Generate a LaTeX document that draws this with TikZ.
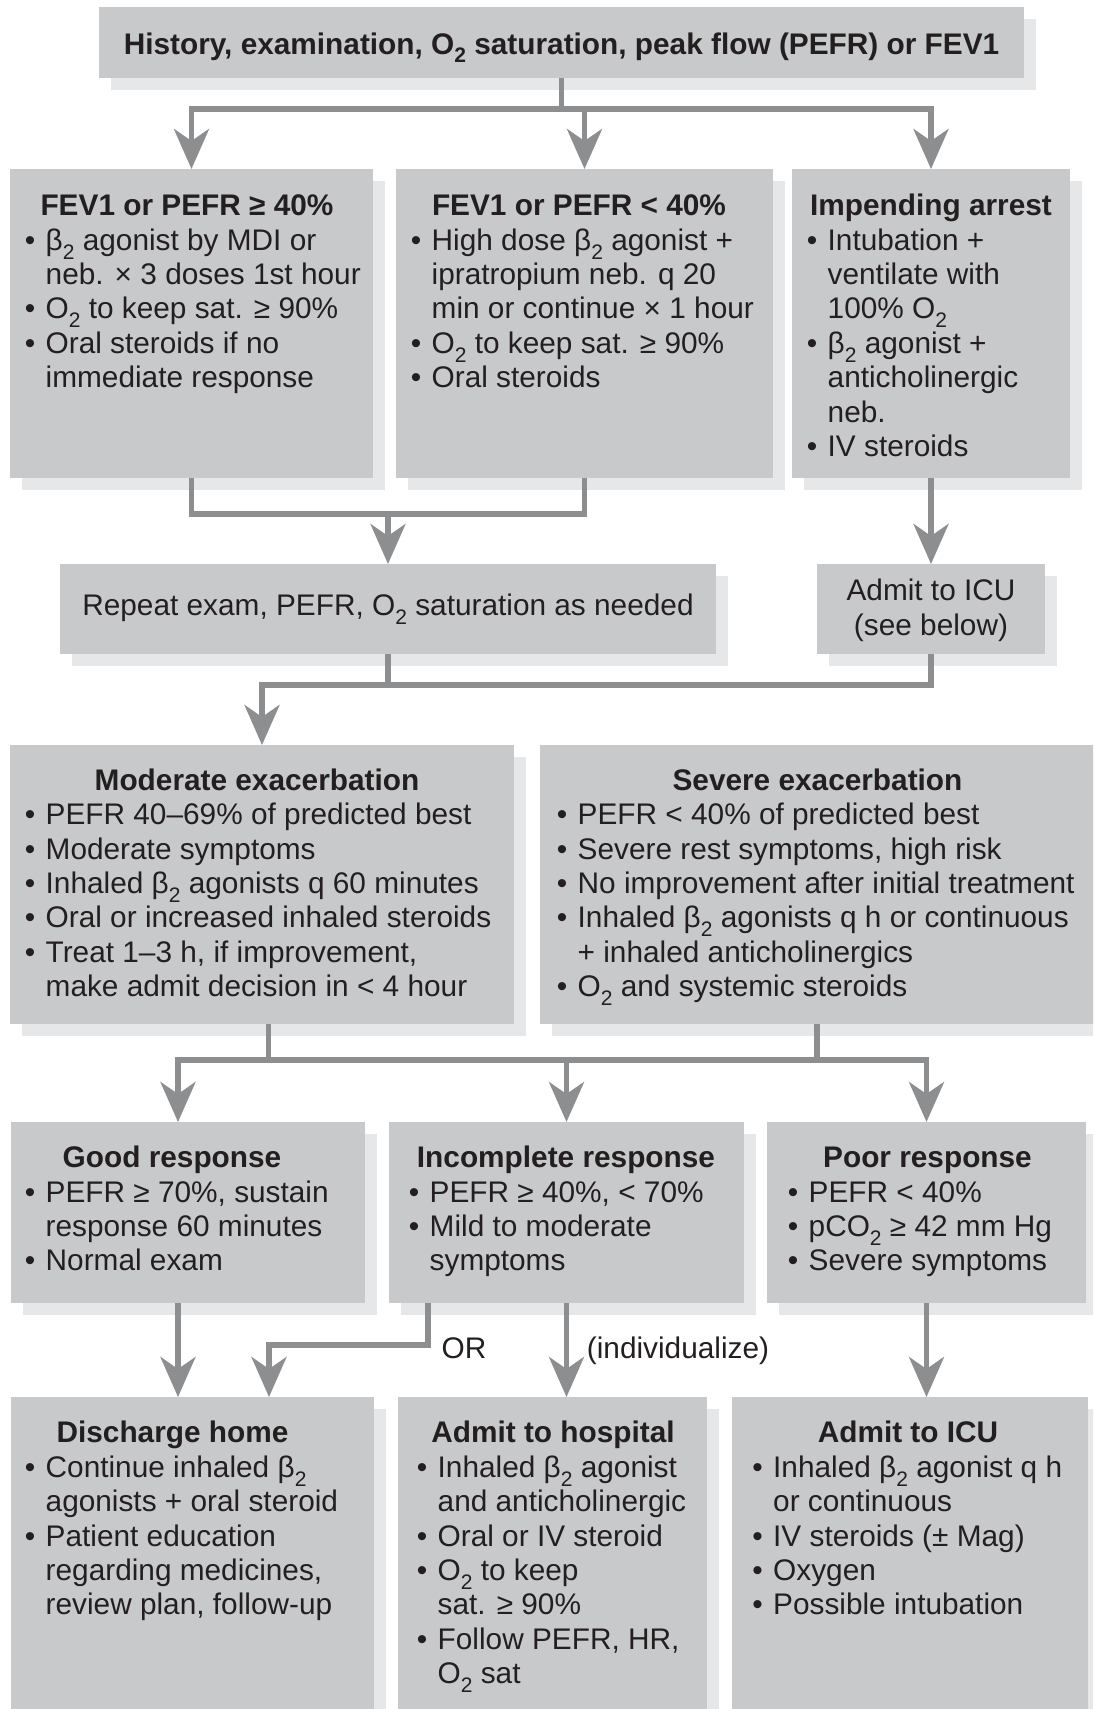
\documentclass[tikz,border=0pt]{standalone}
\usepackage{fontspec}
\setmainfont{Liberation Sans}
\usetikzlibrary{arrows.meta,calc}
\definecolor{boxc}{HTML}{C8C9CB}
\definecolor{shdc}{HTML}{E6E7E8}
\definecolor{linec}{HTML}{8D8E90}
\definecolor{txtc}{HTML}{231F20}
\newcommand{\sbt}[1]{\raisebox{-0.3em}{\fontsize{21}{21}\selectfont #1}}
\newcommand{\bul}{\makebox[31pt][c]{•}}
\newcommand{\cnt}{\hspace*{31pt}}
\newcommand{\gb}[5]{%
  \fill[shdc] (#2+12,#3+12) rectangle (#4+12,#5+12);
  \node[gbox, minimum width=#4-#2, minimum height=#5-#3] (#1) at (#2,#3) {};}
\tikzset{
  gbox/.style={fill=boxc, draw=none, inner sep=0pt, outer sep=0pt, anchor=north west},
  body/.style={anchor=north west, inner sep=0pt, align=left, text=txtc, font=\fontsize{29.8}{34.4}\selectfont},
  ttl/.style={anchor=base, inner sep=0pt, text=txtc, font=\fontsize{29.8}{34.4}\selectfont\bfseries},
  lbl/.style={anchor=base, inner sep=0pt, text=txtc, font=\fontsize{29.8}{34.4}\selectfont},
  conn/.style={draw=linec, line width=5.5pt},
  arr/.style={conn, -{Stealth[length=40pt,width=35pt,inset=12pt]}},
}
\begin{document}
\begin{tikzpicture}[x=1pt,y=-1pt]
\useasboundingbox (0,0) rectangle (1093,1709);
\clip (0,0) rectangle (1093,1709);
% boxes
\gb{top}{99}{7}{1024}{78}
\gb{b1}{10}{169}{373}{478}
\gb{b2}{396}{169}{773}{478}
\gb{b3}{792}{169}{1070}{478}
\gb{rep}{60}{564}{716}{654}
\gb{icu1}{817}{564}{1045}{654}
\gb{mod}{10}{745}{514}{1024}
\gb{sev}{540}{745}{1100}{1024}
\gb{good}{11}{1122}{365}{1303}
\gb{inc}{389}{1122}{744}{1303}
\gb{poor}{767}{1122}{1086}{1303}
\gb{dis}{11}{1397}{374}{1720}
\gb{hosp}{398}{1397}{707}{1720}
\gb{icu2}{732}{1397}{1088}{1720}
% texts
\node[ttl] (topt) at (561.5,54) {History, examination, O\sbt{2} saturation, peak flow (PEFR) or FEV1};
\node[ttl] (t1) at (187,215.5) {FEV1 or PEFR ≥ 40\%};
\node[body] (x1) at (14.5,225.9) {\strut\bul β\sbt{2} agonist by MDI or\\ \cnt neb. × 3 doses 1st hour\\ \bul O\sbt{2} to keep sat. ≥ 90\%\\ \bul Oral steroids if no\\ \cnt immediate response};
\node[ttl] (t2) at (579,215.5) {FEV1 or PEFR < 40\%};
\node[body] (x2) at (400.5,225.9) {\strut\bul High dose β\sbt{2} agonist +\\ \cnt ipratropium neb. q 20\\ \cnt min or continue × 1 hour\\ \bul O\sbt{2} to keep sat. ≥ 90\%\\ \bul Oral steroids};
\node[ttl] (t3) at (931,215.5) {Impending arrest};
\node[body] (x3) at (796.5,225.9) {\strut\bul Intubation +\\ \cnt ventilate with\\ \cnt 100\% O\sbt{2}\\ \bul β\sbt{2} agonist +\\ \cnt anticholinergic\\ \cnt neb.\\ \bul IV steroids};
\node[lbl] (rept) at (388,615.7) {Repeat exam, PEFR, O\sbt{2} saturation as needed};
\node[body, anchor=north, align=center] (icut) at (931,576.5) {\strut Admit to ICU\\(see below)};
\node[ttl] (t4) at (257,790) {Moderate exacerbation};
\node[body] (x4) at (14.5,800.4) {\strut\bul PEFR 40–69\% of predicted best\\ \bul Moderate symptoms\\ \bul Inhaled β\sbt{2} agonists q 60 minutes\\ \bul Oral or increased inhaled steroids\\ \bul Treat 1–3 h, if improvement,\\ \cnt make admit decision in < 4 hour};
\node[ttl] (t5) at (817.5,790) {Severe exacerbation};
\node[body] (x5) at (546.5,800.4) {\strut\bul PEFR < 40\% of predicted best\\ \bul Severe rest symptoms, high risk\\ \bul No improvement after initial treatment\\ \bul Inhaled β\sbt{2} agonists q h or continuous\\ \cnt + inhaled anticholinergics\\ \bul O\sbt{2} and systemic steroids};
\node[ttl] (t6) at (172,1167.5) {Good response};
\node[body] (x6) at (14.5,1177.9) {\strut\bul PEFR ≥ 70\%, sustain\\ \cnt response 60 minutes\\ \bul Normal exam};
\node[ttl] (t7) at (566,1167.5) {Incomplete response};
\node[body] (x7) at (398.5,1177.9) {\strut\bul PEFR ≥ 40\%, < 70\%\\ \bul Mild to moderate\\ \cnt symptoms};
\node[ttl] (t8) at (927.5,1167.5) {Poor response};
\node[body] (x8) at (777.5,1177.9) {\strut\bul PEFR < 40\%\\ \bul pCO\sbt{2} ≥ 42 mm Hg\\ \bul Severe symptoms};
\node[ttl] (t9) at (172.5,1442.5) {Discharge home};
\node[body] (x9) at (14.5,1452.9) {\strut\bul Continue inhaled β\sbt{2}\\ \cnt agonists + oral steroid\\ \bul Patient education\\ \cnt regarding medicines,\\ \cnt review plan, follow-up};
\node[ttl] (t10) at (553,1442.5) {Admit to hospital};
\node[body] (x10) at (406.5,1452.9) {\strut\bul Inhaled β\sbt{2} agonist\\ \cnt and anticholinergic\\ \bul Oral or IV steroid\\ \bul O\sbt{2} to keep\\ \cnt sat. ≥ 90\%\\ \bul Follow PEFR, HR,\\ \cnt O\sbt{2} sat};
\node[ttl] (t11) at (908,1442.5) {Admit to ICU};
\node[body] (x11) at (742,1452.9) {\strut\bul Inhaled β\sbt{2} agonist q h\\ \cnt or continuous\\ \bul IV steroids (± Mag)\\ \bul Oxygen\\ \bul Possible intubation};
\node[lbl] (or) at (464,1358.5) {OR};
\node[lbl] (indiv) at (678,1358.5) {(individualize)};
% connectors
\draw[conn] (top.south) -- ++(0,31) coordinate (j1);
\draw[arr] (j1) -| (b1.north);
\draw[arr] (j1) -| (b2.north);
\draw[arr] (j1) -| (b3.north);
\coordinate (j2) at ($(rep.north)+(0,-50)$);
\draw[conn] (b1.south) |- (j2) -| (b2.south);
\draw[arr] (j2) -- (rep.north);
\draw[arr] (b3.south) -- (icu1.north);
\coordinate (j3) at ($(rep.south)+(0,31)$);
\draw[conn] (icu1.south) |- (j3);
\draw[conn] (rep.south) -- (j3);
\draw[arr] (j3) -| (mod.north);
\coordinate (m1) at ($(mod.south)+(6.5,0)$);
\coordinate (s1) at ($(sev.south)+(-3,0)$);
\coordinate (j4) at ($(m1)+(0,36)$);
\draw[conn] (m1) -- (j4);
\draw[conn] (s1) |- (j4);
\coordinate (gIn) at ($(good.north)+(-10,0)$);
\draw[arr] (j4) -| (gIn);
\draw[arr] (j4) -| (inc.north);
\draw[arr] (j4) -| (poor.north);
\coordinate (gOut) at ($(good.south)+(-10,0)$);
\draw[arr] (gOut) -- (gOut |- dis.north);
\coordinate (iOut) at ($(inc.south)+(-138.5,0)$);
\coordinate (jOR) at ($(iOut)+(0,42)$);
\coordinate (dIn) at ($(dis.north)+(76.5,0)$);
\draw[arr] (iOut) -- (jOR) -| (dIn);
\draw[arr] (inc.south) -- (inc.south |- hosp.north);
\draw[arr] (poor.south) -- (poor.south |- icu2.north);
\end{tikzpicture}
\end{document}
